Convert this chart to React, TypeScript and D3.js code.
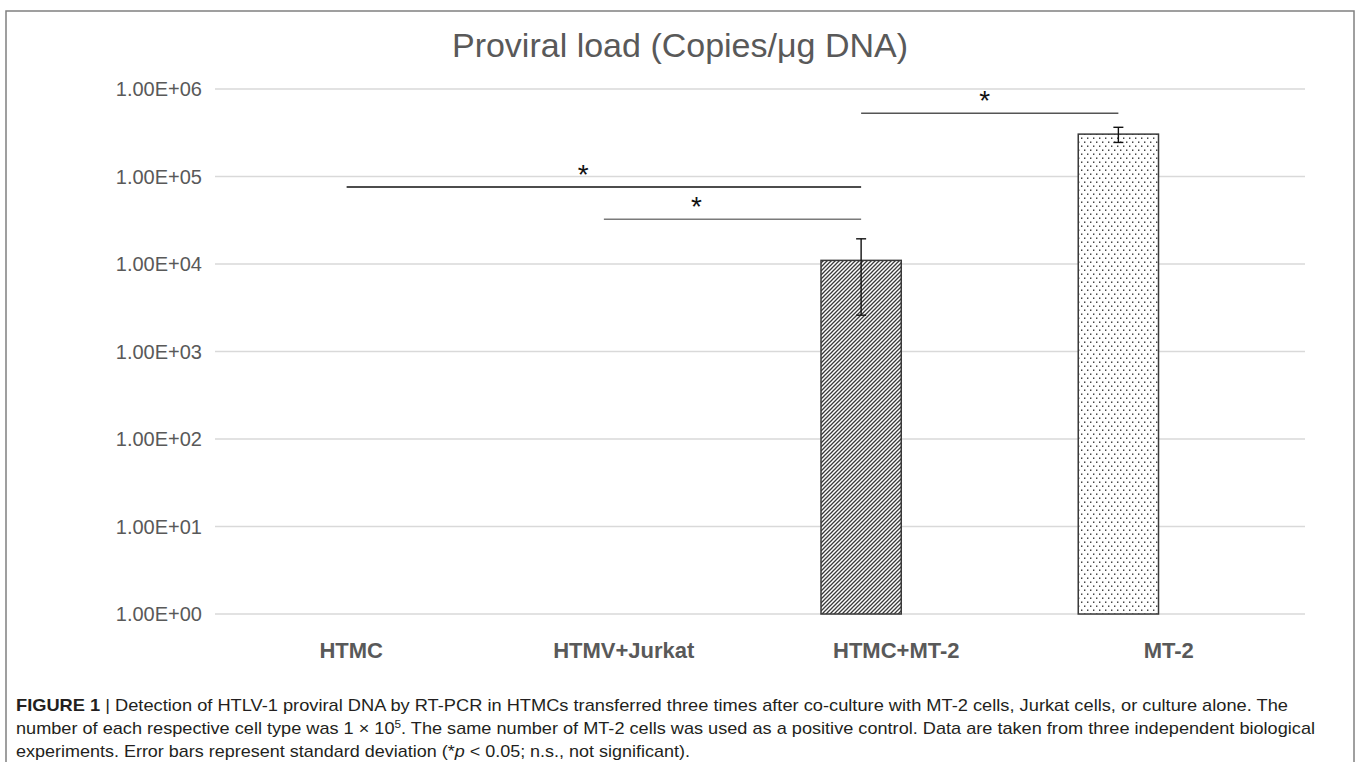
import React from 'react';
import * as d3 from 'd3';

// chart values
const categories = ['HTMC', 'HTMV+Jurkat', 'HTMC+MT-2', 'MT-2'];
const means = [0, 0, 11000, 305000];
const sds = [0, 0, 8400, 60000];
const patterns = ['', '', 'hatch', 'dots'];
const yTicks = [1, 10, 100, 1000, 10000, 100000, 1000000];

// significance brackets: category indices, height (copies), star position along the line
const compFrom = [0, 1, 2];
const compTo = [2, 2, 3];
const compLevel = [76000, 32500, 530000];
const compStarAt = [0.46, 0.36, 0.48];
const compColor = ['#111', '#7a7a7a', '#555'];

const W = 1355;
const H = 762;
const font = '"Liberation Sans", Arial, sans-serif';

const fmtExp = (v: number) => {
  const e = Math.round(Math.log10(v));
  return `1.00E+${String(e).padStart(2, '0')}`;
};

export default function App() {
  // plot area
  const left = 215, right = 1305, top = 89, bottom = 614;

  const y = d3.scaleLog().domain([1, 1e6]).range([bottom, top]);
  // labels sit on the full category axis
  const xLabel = d3.scalePoint<string>().domain(categories).range([left, right]).padding(0.5);
  // bars are drawn a bit left of the labels, as in the figure
  const xBar = d3.scalePoint<string>().domain(categories).range([218, 1247]).padding(0.5);
  const barW = xBar.step() * 0.312;

  return (
    <svg width={W} height={H} style={{ position: 'absolute', left: 0, top: 0, background: '#fff' }}>
      <defs>
        <pattern id="hatch" width={4} height={4} patternUnits="userSpaceOnUse">
          <rect width={4} height={4} fill="#fff" />
          <path d="M-1,1 l2,-2 M0,4 l4,-4 M3,5 l2,-2" stroke="#3a3a3a" strokeWidth={1.3} />
        </pattern>
        <pattern id="dots" width={6} height={8} patternUnits="userSpaceOnUse">
          <rect width={6} height={8} fill="#fff" />
          <rect x={1} y={1.5} width={1.4} height={1.4} fill="#333" />
          <rect x={4} y={5.5} width={1.4} height={1.4} fill="#333" />
        </pattern>
      </defs>

      <rect x={6} y={11} width={1348} height={800} fill="#fff" stroke="#808080" strokeWidth={1.5} />

      <text x={680} y={57} textAnchor="middle" fontFamily={font} fontSize={34} fill="#595959">
        Proviral load (Copies/μg DNA)
      </text>

      {/* grid + y labels */}
      {yTicks.map(t => (
        <g key={t}>
          <line x1={left} x2={right} y1={y(t)} y2={y(t)} stroke="#d9d9d9" strokeWidth={1.3} />
          <text x={202} y={y(t)} dy="0.35em" textAnchor="end" fontFamily={font} fontSize={20} fill="#595959">
            {fmtExp(t)}
          </text>
        </g>
      ))}

      {/* bars */}
      {categories.map((c, i) => {
        if (!means[i]) return null;
        const cx = xBar(c)!;
        const yt = y(means[i]);
        const hi = y(means[i] + sds[i]);
        const lo = y(Math.max(1, means[i] - sds[i]));
        return (
          <g key={c}>
            <rect x={cx - barW / 2} y={yt} width={barW} height={bottom - yt}
              fill={`url(#${patterns[i]})`} stroke="#3a3a3a" strokeWidth={1.5} />
            <line x1={cx} x2={cx} y1={hi} y2={lo} stroke="#111" strokeWidth={1.4} />
            <line x1={cx - 5} x2={cx + 5} y1={hi} y2={hi} stroke="#111" strokeWidth={1.4} />
            <line x1={cx - 5} x2={cx + 5} y1={lo} y2={lo} stroke="#111" strokeWidth={1.4} />
          </g>
        );
      })}

      {/* significance brackets */}
      {compFrom.map((f, i) => {
        const x1 = xBar(categories[f])!;
        const x2 = xBar(categories[compTo[i]])!;
        const yy = y(compLevel[i]);
        return (
          <g key={i}>
            <line x1={x1} x2={x2} y1={yy} y2={yy} stroke={compColor[i]} strokeWidth={1.5} />
            <text x={x1 + (x2 - x1) * compStarAt[i]} y={yy - 3} textAnchor="middle"
              fontFamily={font} fontSize={28} fill="#111">*</text>
          </g>
        );
      })}

      {/* category labels */}
      {categories.map(c => (
        <text key={c} x={xLabel(c)!} y={658} textAnchor="middle" fontFamily={font}
          fontSize={22} fontWeight="bold" fill="#595959">{c}</text>
      ))}

      {/* caption */}
      <g fontFamily={font} fontSize={17} fill="#231f20">
        <text x={16} y={711} textLength={1272} lengthAdjust="spacingAndGlyphs">
          <tspan fontWeight="bold">FIGURE 1</tspan>
          <tspan>  |  Detection of HTLV-1 proviral DNA by RT-PCR in HTMCs transferred three times after co-culture with MT-2 cells, Jurkat cells, or culture alone. The</tspan>
        </text>
        <text x={16} y={734} textLength={1299} lengthAdjust="spacingAndGlyphs">
          <tspan>number of each respective cell type was 1 × 10</tspan>
          <tspan dy={-6} fontSize={11}>5</tspan>
          <tspan dy={6}>. The same number of MT-2 cells was used as a positive control. Data are taken from three independent biological</tspan>
        </text>
        <text x={16} y={757} textLength={674} lengthAdjust="spacingAndGlyphs">
          <tspan>experiments. Error bars represent standard deviation (*</tspan>
          <tspan fontStyle="italic">p</tspan>
          <tspan> &lt; 0.05; n.s., not significant).</tspan>
        </text>
      </g>
    </svg>
  );
}
